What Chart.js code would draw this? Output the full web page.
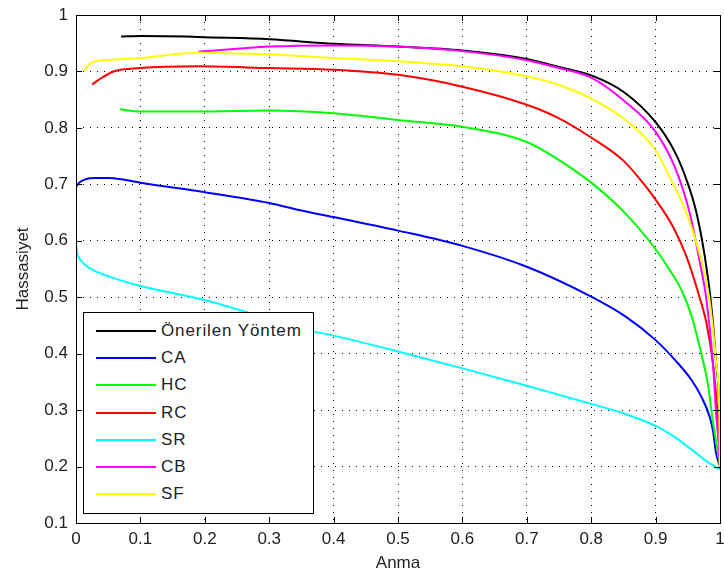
<!DOCTYPE html>
<html lang="tr">
<head>
<meta charset="UTF-8">
<title>Hassasiyet - Anma</title>
<script src="https://cdn.jsdelivr.net/npm/chart.js"></script>
<style>
  body { margin: 0; background: #fff; font-family: "Liberation Sans", Arial, sans-serif; }
  .wrap { position: relative; width: 724px; height: 576px; }
  #legend {
    position: absolute; left: 83px; top: 312px; width: 231px; height: 202px;
    box-sizing: border-box; border: 1px solid #000; background: #fff; padding-top: 4px;
  }
  .row { display: flex; align-items: center; height: 27.3px; }
  .row .swatch { width: 60px; height: 2px; margin-left: 12px; margin-right: 5px; }
  .row .label { font-size: 17px; color: #222; white-space: nowrap; letter-spacing: 0.9px; }
</style>
</head>
<body>
<div class="wrap">
  <canvas id="chart" width="724" height="576"></canvas>
  <div id="legend"></div>
</div>

<script>
// tick values and labels
const xTicks = [0, 0.1, 0.2, 0.3, 0.4, 0.5, 0.6, 0.7, 0.8, 0.9, 1];
const xTickLabels = ['0', '0.1', '0.2', '0.3', '0.4', '0.5', '0.6', '0.7', '0.8', '0.9', '1'];
const yTicks = [0.1, 0.2, 0.3, 0.4, 0.5, 0.6, 0.7, 0.8, 0.9, 1];
const yTickLabels = ['0.1', '0.2', '0.3', '0.4', '0.5', '0.6', '0.7', '0.8', '0.9', '1'];

const seriesNames = ['Önerilen Yöntem', 'CA', 'HC', 'RC', 'SR', 'CB', 'SF'];

// anma (x) / hassasiyet (y) values
const oneriX = [0.07, 0.1, 0.17, 0.19, 0.3, 0.4, 0.5, 0.6, 0.7, 0.75, 0.8, 0.85, 0.9, 0.93, 0.948, 0.963, 0.976, 0.986, 0.994, 0.999, 1.0];
const oneriY = [0.962, 0.963, 0.962, 0.961, 0.957, 0.949, 0.944, 0.937, 0.922, 0.908, 0.893, 0.864, 0.81, 0.757, 0.708, 0.652, 0.575, 0.49, 0.383, 0.294, 0.22];

const caX = [0, 0.005, 0.015, 0.03, 0.05, 0.07, 0.1, 0.2, 0.3, 0.348, 0.4, 0.5, 0.6, 0.7, 0.8, 0.853, 0.9, 0.93, 0.956, 0.971, 0.984, 0.989, 0.994, 1.0];
const caY = [0.695, 0.703, 0.709, 0.711, 0.711, 0.709, 0.703, 0.686, 0.667, 0.654, 0.642, 0.618, 0.591, 0.554, 0.501, 0.466, 0.424, 0.389, 0.353, 0.324, 0.288, 0.264, 0.223, 0.2];

const hcX = [0.068, 0.1, 0.19, 0.3, 0.4, 0.5, 0.6, 0.7, 0.75, 0.8, 0.85, 0.9, 0.922, 0.94, 0.956, 0.971, 0.981, 0.989, 0.996, 1.0];
const hcY = [0.833, 0.829, 0.829, 0.831, 0.826, 0.814, 0.802, 0.775, 0.743, 0.703, 0.652, 0.585, 0.548, 0.513, 0.466, 0.40, 0.347, 0.28, 0.23, 0.2];

const rcX = [0.025, 0.035, 0.058, 0.1, 0.19, 0.3, 0.4, 0.5, 0.6, 0.7, 0.75, 0.8, 0.85, 0.875, 0.9, 0.927, 0.948, 0.968, 0.979, 0.989, 0.997, 1.0];
const rcY = [0.877, 0.885, 0.9, 0.906, 0.909, 0.906, 0.903, 0.894, 0.873, 0.841, 0.817, 0.783, 0.742, 0.71, 0.673, 0.625, 0.572, 0.501, 0.454, 0.383, 0.28, 0.2];

const srX = [0, 0.002, 0.007, 0.022, 0.053, 0.1, 0.152, 0.2, 0.255, 0.3, 0.37, 0.4, 0.5, 0.6, 0.7, 0.8, 0.853, 0.9, 0.93, 0.956, 0.981, 1.0];
const srY = [0.595, 0.578, 0.566, 0.551, 0.536, 0.52, 0.507, 0.495, 0.477, 0.462, 0.439, 0.432, 0.404, 0.374, 0.343, 0.311, 0.293, 0.272, 0.252, 0.23, 0.208, 0.195];

const cbX = [0.19, 0.25, 0.3, 0.4, 0.5, 0.6, 0.7, 0.75, 0.8, 0.85, 0.9, 0.93, 0.953, 0.968, 0.979, 0.989, 0.994, 0.998, 1.0];
const cbY = [0.935, 0.94, 0.944, 0.946, 0.944, 0.936, 0.92, 0.906, 0.889, 0.849, 0.793, 0.73, 0.649, 0.566, 0.495, 0.383, 0.294, 0.24, 0.2];

const sfX = [0.012, 0.02, 0.03, 0.06, 0.1, 0.19, 0.3, 0.4, 0.5, 0.6, 0.7, 0.75, 0.8, 0.85, 0.9, 0.924, 0.948, 0.968, 0.983, 0.994, 0.999, 1.0];
const sfY = [0.9, 0.912, 0.918, 0.921, 0.924, 0.933, 0.93, 0.924, 0.918, 0.909, 0.891, 0.876, 0.852, 0.817, 0.76, 0.708, 0.649, 0.578, 0.501, 0.383, 0.294, 0.2];

const seriesX = [oneriX, caX, hcX, rcX, srX, cbX, sfX];
const seriesY = [oneriY, caY, hcY, rcY, srY, cbY, sfY];
const colors = ['#000000', '#0000ff', '#00ff00', '#ff0000', '#00ffff', '#ff00ff', '#ffff00'];

const font = { family: '"Liberation Sans", Arial, sans-serif', size: 17 };

// box + inward tick marks like matlab
const frame = {
  id: 'frame',
  afterDatasetsDraw(chart) {
    const { ctx, chartArea: a, scales: { x, y } } = chart;
    const len = 6;
    ctx.save();
    ctx.strokeStyle = '#000';
    ctx.lineWidth = 1;
    ctx.beginPath();
    xTicks.forEach(v => {
      const px = Math.round(x.getPixelForValue(v)) + 0.5;
      ctx.moveTo(px, a.bottom); ctx.lineTo(px, a.bottom - len);
      ctx.moveTo(px, a.top); ctx.lineTo(px, a.top + len);
    });
    yTicks.forEach(v => {
      const py = Math.round(y.getPixelForValue(v)) + 0.5;
      ctx.moveTo(a.left, py); ctx.lineTo(a.left + len, py);
      ctx.moveTo(a.right, py); ctx.lineTo(a.right - len, py);
    });
    ctx.stroke();
    ctx.strokeRect(Math.round(a.left) + 0.5, Math.round(a.top) + 0.5,
      Math.round(a.right - a.left), Math.round(a.bottom - a.top));
    ctx.restore();
  }
};

const ctx = document.getElementById('chart').getContext('2d');
const chart = new Chart(ctx, {
  type: 'scatter',
  data: {
    datasets: seriesNames.map((name, i) => ({
      label: name,
      data: seriesX[i].map((xv, j) => ({ x: xv, y: seriesY[i][j] })),
      showLine: true,
      borderColor: colors[i],
      backgroundColor: colors[i],
      borderWidth: 2,
      pointRadius: 0,
      cubicInterpolationMode: 'monotone',
      order: seriesNames.length - i
    }))
  },
  options: {
    responsive: false,
    animation: false,
    layout: { padding: { left: 0, right: 4, top: 15, bottom: 0 } },
    plugins: { legend: { display: false }, tooltip: { enabled: false } },
    scales: {
      x: {
        type: 'linear', min: 0, max: 1,
        afterBuildTicks: s => { s.ticks = xTicks.map(v => ({ value: v })); },
        afterFit: s => { s.height = 53; s.paddingLeft = 0; s.paddingRight = 0; },
        ticks: { font, color: '#222', padding: 6, maxRotation: 0,
          callback: (v, i) => xTickLabels[i] },
        grid: { color: '#000', lineWidth: 1, drawTicks: false },
        border: { display: false, dash: [1, 6] },
        title: { display: true, text: 'Anma', font, color: '#222', padding: { top: 0, bottom: 2 } }
      },
      y: {
        type: 'linear', min: 0.1, max: 1,
        afterBuildTicks: s => { s.ticks = yTicks.map(v => ({ value: v })); },
        afterFit: s => { s.width = 76; s.paddingTop = 0; s.paddingBottom = 0; },
        ticks: { font, color: '#222', padding: 8,
          callback: (v, i) => yTickLabels[i] },
        grid: { color: '#000', lineWidth: 1, drawTicks: false },
        border: { display: false, dash: [1, 6] },
        title: { display: true, text: 'Hassasiyet', font, color: '#222', padding: { top: 13, bottom: 0 } }
      }
    }
  },
  plugins: [frame]
});

// legend inside the plot area, lower left
const legendBox = document.getElementById('legend');
chart.data.datasets.forEach(ds => {
  const row = document.createElement('div');
  row.className = 'row';
  const sw = document.createElement('span');
  sw.className = 'swatch';
  sw.style.background = ds.borderColor;
  const lb = document.createElement('span');
  lb.className = 'label';
  lb.textContent = ds.label;
  row.appendChild(sw);
  row.appendChild(lb);
  legendBox.appendChild(row);
});
</script>
</body>
</html>
